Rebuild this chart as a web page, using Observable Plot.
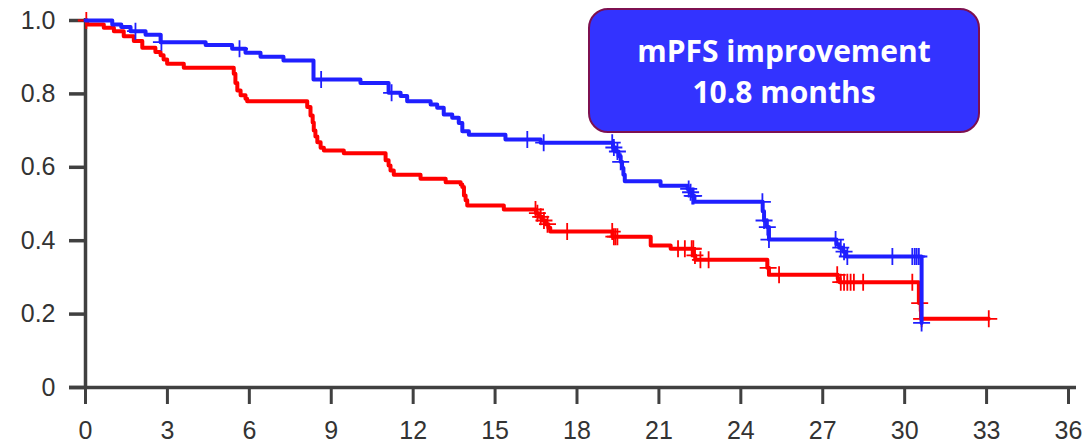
<!DOCTYPE html>
<html>
<head>
<meta charset="utf-8">
<script src="https://cdn.jsdelivr.net/npm/d3@7"></script>
<script src="https://cdn.jsdelivr.net/npm/@observablehq/plot@0.6"></script>
<style>
  html, body { margin: 0; padding: 0; background: #fff; }
  #wrap { position: relative; width: 1088px; height: 448px; }
  #note {
    position: absolute; left: 588px; top: 8px; width: 388px; height: 121px;
    background: #3333ff; border: 2px solid #7d1050; border-radius: 20px;
    color: #fff; font-family: "Open Sans", sans-serif; font-weight: 700;
    font-size: 30px; line-height: 41px; text-align: center;
    display: flex; flex-direction: column; justify-content: center;
  }
</style>
</head>
<body>
<div id="wrap">
  <div id="chart"></div>
  <div id="note"><div>mPFS improvement</div><div>10.8 months</div></div>
</div>
<script>
// Axis ticks
const monthTicks = [0, 3, 6, 9, 12, 15, 18, 21, 24, 27, 30, 33, 36];
const survTicks = [0, 0.2, 0.4, 0.6, 0.8, 1.0];
const survTickLabels = ["0", "0.2", "0.4", "0.6", "0.8", "1.0"];

// Blue arm: event times (months) and survival after each step
const blueTimes = [0, 0.98, 1.31, 1.65, 2.2, 2.75, 4.4, 5.37, 5.86, 6.41, 7.25, 8.35,
  10.07, 11.1, 11.54, 11.78, 12.64, 12.88, 13.12, 13.43, 13.67, 13.8, 14.04, 15.38,
  16.67, 19.32, 19.42, 19.52, 19.6, 19.65, 19.7, 19.75, 21.06, 22.05, 22.12, 22.2,
  22.3, 24.8, 24.85, 24.95, 25.03, 27.5, 27.6, 27.75, 27.85, 30.62];
const blueSurv = [1, 0.989, 0.982, 0.971, 0.961, 0.941, 0.933, 0.923, 0.912, 0.901, 0.891, 0.839,
  0.830, 0.803, 0.794, 0.780, 0.771, 0.762, 0.744, 0.735, 0.721, 0.698, 0.689, 0.676,
  0.667, 0.654, 0.643, 0.630, 0.615, 0.598, 0.580, 0.562, 0.550, 0.541, 0.532, 0.522,
  0.506, 0.480, 0.455, 0.437, 0.403, 0.390, 0.381, 0.370, 0.357, 0.176];
const blueCensored = [1.83, 2.78, 5.64, 8.63, 11.21, 16.18, 16.78, 19.29, 19.35, 19.48, 19.6,
  22.09, 22.16, 22.22, 22.27, 24.79, 24.85, 24.97, 25.03, 27.47, 27.66, 27.78, 27.9,
  29.55, 30.28, 30.37, 30.44, 30.52, 30.62];

// Red arm: event times (months) and survival after each step
const redTimes = [0, 0.06, 0.67, 1.04, 1.4, 1.77, 2.08, 2.56, 2.75, 2.86, 2.99, 3.6,
  5.43, 5.49, 5.56, 5.68, 5.86, 5.92, 8.12, 8.24, 8.32, 8.36, 8.42, 8.49,
  8.61, 8.73, 9.46, 10.99, 11.1, 11.17, 11.29, 12.27, 13.19, 13.74, 13.8, 13.86,
  13.92, 13.98, 15.32, 16.5, 16.6, 16.72, 16.85, 16.95, 17.02, 19.3, 20.7, 21.43,
  22.27, 22.33, 24.97, 25.03, 27.55, 27.62, 30.52, 30.6];
const redSurv = [1, 0.989, 0.980, 0.971, 0.957, 0.944, 0.926, 0.914, 0.905, 0.894, 0.882, 0.871,
  0.855, 0.830, 0.809, 0.796, 0.787, 0.780, 0.764, 0.741, 0.722, 0.700, 0.684, 0.668,
  0.653, 0.646, 0.638, 0.619, 0.605, 0.591, 0.580, 0.569, 0.559, 0.553, 0.546, 0.523,
  0.510, 0.496, 0.485, 0.475, 0.465, 0.455, 0.445, 0.435, 0.425, 0.411, 0.387, 0.378,
  0.360, 0.348, 0.326, 0.307, 0.296, 0.287, 0.230, 0.187];
const redCensored = [0.03, 16.48, 16.55, 16.67, 16.79, 16.92, 17.64, 19.29, 19.35, 19.41, 19.48,
  21.7, 21.95, 22.2, 22.26, 22.32, 22.52, 22.82, 25.0, 25.4, 27.53, 27.66, 27.78,
  27.9, 28.02, 28.14, 28.48, 30.28, 30.55, 30.62, 33.08];

const BLUE = "#1f1fff";
const RED = "#ff0000";
const AXIS = "#404040";

// Survival at time t from a step function
function survAt(times, surv, t) {
  let s = surv[0];
  for (let i = 0; i < times.length; i++) if (times[i] <= t) s = surv[i];
  return s;
}

// Step path, extended to the last follow-up time
function curve(times, surv, censored) {
  const pts = times.map((t, i) => ({t, s: surv[i]}));
  const end = Math.max(...censored);
  if (end > times[times.length - 1]) pts.push({t: end, s: surv[surv.length - 1]});
  return pts;
}

function ticks(times, surv, censored) {
  return censored.map(t => ({t, s: survAt(times, surv, t)}));
}

// Open "+" used for censored observations
const plusSymbol = {
  draw(context, size) {
    const r = Math.sqrt(size / Math.PI);
    context.moveTo(-r, 0); context.lineTo(r, 0);
    context.moveTo(0, -r); context.lineTo(0, r);
  }
};

const blueLine = curve(blueTimes, blueSurv, blueCensored);
const redLine = curve(redTimes, redSurv, redCensored);
const blueMarks = ticks(blueTimes, blueSurv, blueCensored);
const redMarks = ticks(redTimes, redSurv, redCensored);

const chart = Plot.plot({
  width: 1088,
  height: 448,
  marginLeft: 85,
  marginRight: 20,
  marginTop: 20,
  marginBottom: 61,
  style: {fontFamily: "'Liberation Sans', Arial, sans-serif", background: "#fff"},
  x: {domain: [0, 36]},
  y: {domain: [0, 1]},
  marks: [
    Plot.axisX({ticks: monthTicks, tickSize: 17, tickPadding: 17, fontSize: 25,
      stroke: AXIS, strokeWidth: 3, fill: "#333", label: null}),
    Plot.axisY({ticks: survTicks, tickFormat: (d) => survTickLabels[survTicks.indexOf(d)],
      tickSize: 16, tickPadding: 14, fontSize: 25,
      stroke: AXIS, strokeWidth: 3.5, fill: "#333", label: null}),
    Plot.ruleX([0], {stroke: AXIS, strokeWidth: 3.5, insetTop: -2}),
    Plot.ruleY([0], {stroke: AXIS, strokeWidth: 3.5, insetLeft: -16, insetRight: -8}),
    Plot.line(redLine, {x: "t", y: "s", curve: "step-after", stroke: RED, strokeWidth: 4}),
    Plot.dot(redMarks, {x: "t", y: "s", symbol: plusSymbol, r: 8.5, fill: "none", stroke: RED, strokeWidth: 1.8}),
    Plot.line(blueLine, {x: "t", y: "s", curve: "step-after", stroke: BLUE, strokeWidth: 4}),
    Plot.dot(blueMarks, {x: "t", y: "s", symbol: plusSymbol, r: 8.5, fill: "none", stroke: BLUE, strokeWidth: 1.8})
  ]
});
document.getElementById("chart").appendChild(chart);
</script>
</body>
</html>
